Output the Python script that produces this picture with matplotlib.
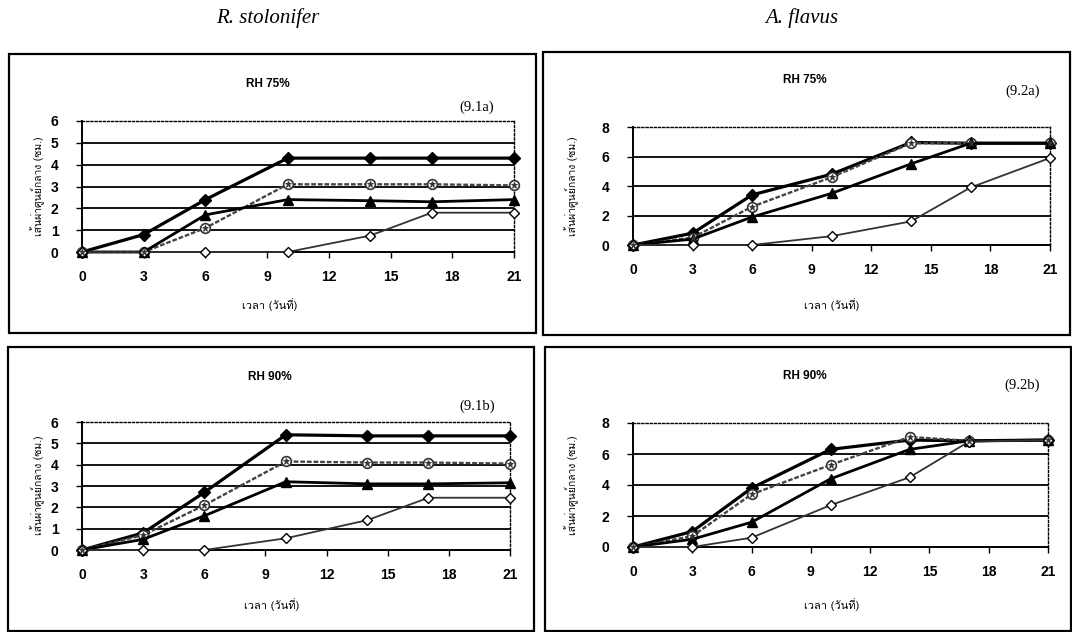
import matplotlib
matplotlib.use("Agg")
import matplotlib.pyplot as plt
from matplotlib.patches import Rectangle
from matplotlib import font_manager as fm
from matplotlib.ft2font import FT2Font

# ---------------- data ----------------
days = [0, 3, 6, 10, 14, 17, 21]
x_ticks = [0, 3, 6, 9, 12, 15, 18, 21]

# R. stolonifer, RH 75%
rs75_s1 = [0, 0.8, 2.4, 4.3, 4.3, 4.3, 4.3]
rs75_s2 = [0, 0.0, 1.1, 3.1, 3.1, 3.1, 3.05]
rs75_s3 = [0, 0.0, 1.7, 2.4, 2.35, 2.3, 2.4]
rs75_s4 = [0, 0.0, 0.0, 0.0, 0.75, 1.8, 1.8]

# R. stolonifer, RH 90%
rs90_s1 = [0, 0.8, 2.7, 5.4, 5.35, 5.35, 5.35]
rs90_s2 = [0, 0.7, 2.1, 4.15, 4.1, 4.1, 4.05]
rs90_s3 = [0, 0.5, 1.6, 3.2, 3.1, 3.1, 3.15]
rs90_s4 = [0, 0.0, 0.0, 0.55, 1.4, 2.45, 2.45]

# A. flavus, RH 75%
af75_s1 = [0, 0.8, 3.4, 4.8, 6.95, 6.9, 6.9]
af75_s2 = [0, 0.5, 2.6, 4.6, 6.9, 6.9, 6.9]
af75_s3 = [0, 0.4, 1.9, 3.5, 5.5, 6.9, 6.9]
af75_s4 = [0, 0.0, 0.0, 0.6, 1.6, 3.9, 5.9]

# A. flavus, RH 90%
af90_s1 = [0, 1.0, 3.8, 6.3, 6.9, 6.85, 6.9]
af90_s2 = [0, 0.7, 3.4, 5.3, 7.1, 6.85, 6.9]
af90_s3 = [0, 0.5, 1.6, 4.4, 6.3, 6.85, 6.9]
af90_s4 = [0, 0.0, 0.6, 2.7, 4.5, 6.8, 6.9]

col_titles = ["R. stolonifer", "A. flavus"]
panel_titles = ["RH 75%", "RH 75%", "RH 90%", "RH 90%"]
panel_refs = ["(9.1a)", "(9.2a)", "(9.1b)", "(9.2b)"]
x_label = "เวลา (วันที่)"
y_label = "เส้นผ่าศูนย์กลาง (ซม.)"


# ---------------- fonts ----------------
def find_font(ch):
    for f in fm.fontManager.ttflist:
        try:
            if ord(ch) in FT2Font(f.fname).get_charmap():
                return f.name
        except Exception:
            pass
    return None

thai = find_font("เ")
thai_fam = [thai, "DejaVu Sans"] if thai else ["DejaVu Sans"]
plt.rcParams["font.family"] = ["Liberation Sans", "DejaVu Sans"]

W, H = 1072, 632
fig = plt.figure(figsize=(W / 100, H / 100), dpi=100)


def fx(px):
    return px / W


def fy(py):
    return 1 - py / H


def frame(x0, y0, x1, y1):
    fig.add_artist(Rectangle((fx(x0), fy(y1)), fx(x1 - x0), (y1 - y0) / H,
                             transform=fig.transFigure, fill=False,
                             lw=1.6, ec="black"))


def add_ax(x0, y0, x1, y1):
    return fig.add_axes([fx(x0), fy(y1), fx(x1 - x0), (y1 - y0) / H])


series_styles = [
    dict(marker="D", ms=6, mfc="black", mec="black", lw=2.3, color="black"),
    dict(marker="o", ms=7, mfc="white", mec="#333333", mew=1.2, lw=1.7,
         color="#444444", ls=(0, (2, 0.8))),
    dict(marker="^", ms=7, mfc="black", mec="black", lw=2.0, color="black"),
    dict(marker="D", ms=5, mfc="white", mec="black", mew=1.0, lw=1.3,
         color="#333333"),
]

panels = [
    dict(frame=(9, 54, 536, 333), box=(82, 121, 514, 252), ymax=6, ystep=1,
         data=[rs75_s1, rs75_s2, rs75_s3, rs75_s4],
         tpos=(268, 84), rpos=(494, 107), xl=(270, 305), yl=(38, 186)),
    dict(frame=(543, 52, 1070, 335), box=(633, 127, 1050, 245), ymax=8, ystep=2,
         data=[af75_s1, af75_s2, af75_s3, af75_s4],
         tpos=(805, 80), rpos=(1040, 91), xl=(832, 305), yl=(572, 186)),
    dict(frame=(8, 347, 534, 631), box=(82, 422, 510, 550), ymax=6, ystep=1,
         data=[rs90_s1, rs90_s2, rs90_s3, rs90_s4],
         tpos=(270, 377), rpos=(495, 406), xl=(272, 605), yl=(38, 485)),
    dict(frame=(545, 347, 1071, 631), box=(633, 423, 1048, 547), ymax=8, ystep=2,
         data=[af90_s1, af90_s2, af90_s3, af90_s4],
         tpos=(805, 376), rpos=(1040, 385), xl=(832, 605), yl=(572, 485)),
]

for i, p in enumerate(panels):
    frame(*p["frame"])
    ax = add_ax(*p["box"])
    ymax, ystep = p["ymax"], p["ystep"]
    yt = list(range(0, ymax + 1, ystep))
    for y in yt[1:-1]:
        ax.axhline(y, color="black", lw=1.3, zorder=1)
    for k, (d, st) in enumerate(zip(p["data"], series_styles)):
        ax.plot(days, d, clip_on=False, zorder=3, **st)
        if k == 1:
            # asterisk inside the open circle marker
            ax.plot(days, d, ls="none", marker="*", ms=5, mfc="#333333",
                    mec="#333333", mew=0.6, clip_on=False, zorder=4)
    ax.set_xlim(0, 21)
    ax.set_ylim(0, ymax)
    ax.set_xticks(x_ticks)
    ax.set_yticks(yt)
    ax.tick_params(axis="x", direction="out", length=4, width=1, pad=9,
                   labelsize=10)
    ax.tick_params(axis="y", direction="out", length=4, width=1, pad=13,
                   labelsize=10)
    for lab in ax.get_xticklabels() + ax.get_yticklabels():
        lab.set_fontweight("bold")
    ax.spines["left"].set_linewidth(1.4)
    ax.spines["bottom"].set_linewidth(1.4)
    for s in ("top", "right"):
        ax.spines[s].set_linestyle((0, (1.5, 1.5)))
        ax.spines[s].set_linewidth(1.0)
    ax.patch.set_alpha(0)

    fig.text(fx(p["tpos"][0]), fy(p["tpos"][1]), panel_titles[i],
             ha="center", va="center", fontsize=8.5, fontweight="bold")
    fig.text(fx(p["rpos"][0]), fy(p["rpos"][1]), panel_refs[i],
             ha="right", va="center", fontsize=10.5, family="Liberation Serif")
    fig.text(fx(p["xl"][0]), fy(p["xl"][1]), x_label, ha="center",
             va="center", fontsize=8, family=thai_fam)
    fig.text(fx(p["yl"][0]), fy(p["yl"][1]), y_label, ha="center",
             va="center", fontsize=7.5, rotation=90, family=thai_fam)

fig.text(fx(268), fy(18), col_titles[0], ha="center", va="center",
         fontsize=15, style="italic", family="Liberation Serif")
fig.text(fx(802), fy(18), col_titles[1], ha="center", va="center",
         fontsize=15, style="italic", family="Liberation Serif")

fig.savefig("out.png", dpi=100)
